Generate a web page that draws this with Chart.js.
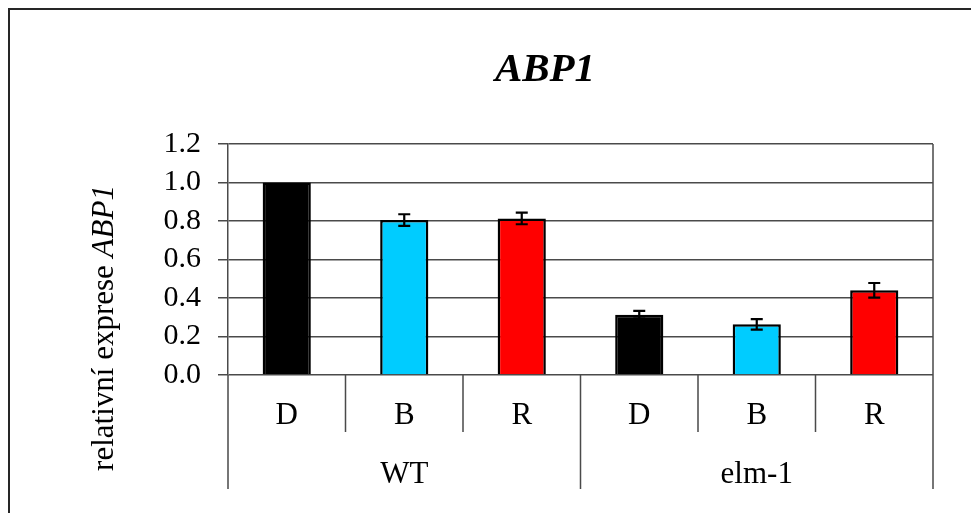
<!DOCTYPE html>
<html>
<head>
<meta charset="utf-8">
<script src="https://cdn.jsdelivr.net/npm/chart.js@4"></script>
<style>
  html, body { margin: 0; padding: 0; background: #fff; }
  #wrap { width: 971px; height: 513px; position: relative; }
</style>
</head>
<body>
<div id="wrap"><canvas id="c" width="971" height="513"></canvas></div>
<script>
// ---- data ----
const categories = ['D', 'B', 'R', 'D', 'B', 'R'];
const groups = ['WT', 'elm-1'];
const groupSize = 3;
const values = [1.00, 0.805, 0.813, 0.313, 0.263, 0.44];
const errors = [0.00, 0.03, 0.03, 0.02, 0.027, 0.038];
const barColors = ['#000000', '#00CCFF', '#FF0000', '#000000', '#00CCFF', '#FF0000'];
const yTicks = [0, 0.2, 0.4, 0.6, 0.8, 1.0, 1.2];
const chartTitle = 'ABP1';
const yTitlePlain = 'relativní exprese ';
const yTitleItalic = 'ABP1';

const FONT = '"Liberation Serif", "Times New Roman", serif';
const LINE = '#4a4a4a';

const decorPlugin = {
  id: 'decor',
  beforeDraw(chart) {
    const ctx = chart.ctx;
    ctx.save();
    ctx.fillStyle = '#fff';
    ctx.fillRect(0, 0, chart.width, chart.height);
    ctx.strokeStyle = '#262626';
    ctx.lineWidth = 2;
    ctx.strokeRect(9, 9, chart.width + 20, chart.height + 20);
    ctx.restore();
  },
  afterDatasetsDraw(chart) {
    const ctx = chart.ctx;
    const meta = chart.getDatasetMeta(0);
    const y = chart.scales.y;
    ctx.save();
    ctx.strokeStyle = '#000';
    ctx.lineWidth = 2.2;
    meta.data.forEach((bar, i) => {
      const e = errors[i];
      if (!e) return;
      const yt = y.getPixelForValue(values[i] + e);
      const yb = y.getPixelForValue(values[i] - e);
      const x = bar.x;
      ctx.beginPath();
      ctx.moveTo(x, yt); ctx.lineTo(x, yb);
      ctx.moveTo(x - 6, yt); ctx.lineTo(x + 6, yt);
      ctx.moveTo(x - 6, yb); ctx.lineTo(x + 6, yb);
      ctx.stroke();
    });
    ctx.restore();
  },
  afterDraw(chart) {
    const ctx = chart.ctx;
    const ca = chart.chartArea;
    const xs = chart.scales.x;
    const row1 = 57, row2 = 114;
    ctx.save();
    ctx.strokeStyle = LINE;
    ctx.lineWidth = 1.5;
    // left + right frame lines
    ctx.beginPath();
    ctx.moveTo(ca.left, ca.bottom); ctx.lineTo(ca.left, ca.bottom + row2);
    ctx.moveTo(ca.right, ca.top); ctx.lineTo(ca.right, ca.bottom + row2);
    ctx.stroke();
    // category dividers
    const px = categories.map((_, i) => xs.getPixelForValue(i));
    ctx.beginPath();
    for (let i = 1; i < categories.length; i++) {
      const xd = (px[i - 1] + px[i]) / 2;
      const len = (i % groupSize === 0) ? row2 : row1;
      ctx.moveTo(xd, ca.bottom); ctx.lineTo(xd, ca.bottom + len);
    }
    ctx.stroke();
    // labels
    ctx.fillStyle = '#000';
    ctx.textAlign = 'center';
    ctx.textBaseline = 'alphabetic';
    ctx.font = '31px ' + FONT;
    categories.forEach((c, i) => ctx.fillText(c, px[i], ca.bottom + 49));
    groups.forEach((g, gi) => {
      const l = gi === 0 ? ca.left : (px[gi * groupSize - 1] + px[gi * groupSize]) / 2;
      const last = (gi + 1) * groupSize;
      const r = last >= categories.length ? ca.right : (px[last - 1] + px[last]) / 2;
      ctx.fillText(g, (l + r) / 2, ca.bottom + 108);
    });
    // title
    ctx.font = 'italic bold 41px ' + FONT;
    ctx.fillText(chartTitle, ca.left + 317, 81);
    // y axis title (mixed style)
    ctx.translate(ca.left - 123, ca.top + 184);
    ctx.rotate(-Math.PI / 2);
    ctx.font = '31px ' + FONT;
    const w1 = ctx.measureText(yTitlePlain).width;
    ctx.font = 'italic 31px ' + FONT;
    const w2 = ctx.measureText(yTitleItalic).width;
    const start = -(w1 + w2) / 2;
    ctx.textAlign = 'left';
    ctx.textBaseline = 'middle';
    ctx.font = '31px ' + FONT;
    ctx.fillText(yTitlePlain, start, 0);
    ctx.font = 'italic 31px ' + FONT;
    ctx.fillText(yTitleItalic, start + w1, 0);
    ctx.restore();
  }
};

new Chart(document.getElementById('c'), {
  type: 'bar',
  data: {
    labels: categories,
    datasets: [{
      data: values,
      backgroundColor: barColors,
      borderColor: '#000',
      borderWidth: 2.5,
      barPercentage: 0.41,
      categoryPercentage: 1.0
    }]
  },
  options: {
    responsive: false,
    animation: false,
    devicePixelRatio: 1,
    layout: { padding: { left: 0, top: 144, right: 38, bottom: 0 } },
    plugins: {
      legend: { display: false },
      tooltip: { enabled: false },
      title: { display: false }
    },
    scales: {
      x: {
        grid: { display: false },
        border: { display: false },
        ticks: { display: false },
        afterFit(scale) { scale.height = 138; }
      },
      y: {
        min: 0,
        max: 1.2,
        afterBuildTicks(scale) { scale.ticks = yTicks.map(v => ({ value: v })); },
        afterFit(scale) { scale.width = 228; },
        ticks: {
          color: '#000',
          padding: 17,
          autoSkip: false,
          font: { family: FONT, size: 30 },
          callback: (v) => Number(v).toFixed(1)
        },
        grid: { color: LINE, lineWidth: 1.5, tickLength: 10, drawTicks: true },
        border: { display: true, color: LINE, width: 1.5 }
      }
    }
  },
  plugins: [decorPlugin]
});
</script>
</body>
</html>
